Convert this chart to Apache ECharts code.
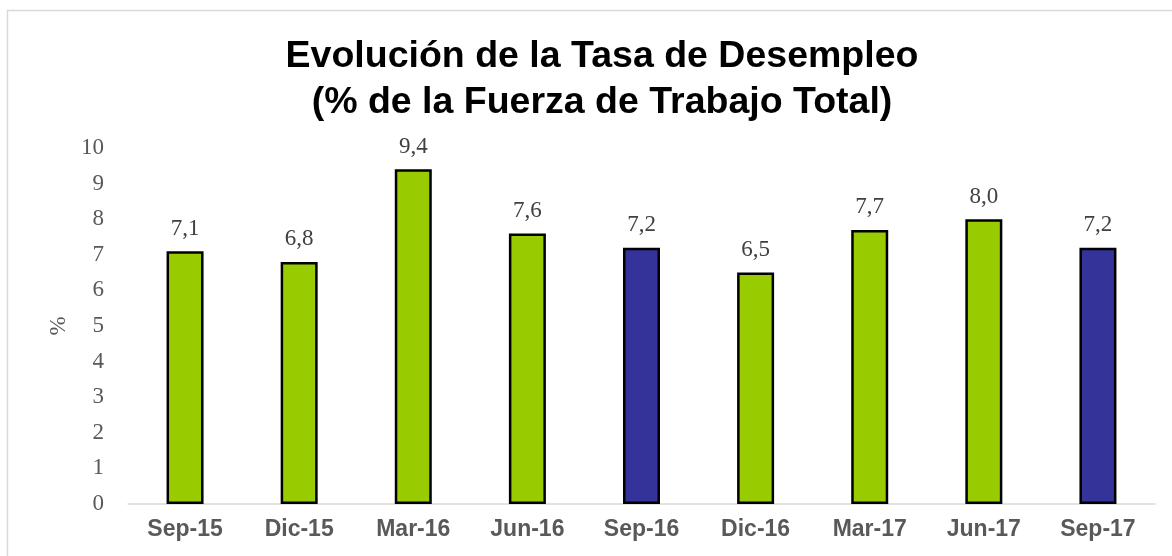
<!DOCTYPE html>
<html>
<head>
<meta charset="utf-8">
<script src="https://cdn.jsdelivr.net/npm/echarts@6/dist/echarts.min.js"></script>
<style>
  html, body { margin: 0; padding: 0; background: #fff; }
  #chart { width: 1172px; height: 556px; }
</style>
</head>
<body>
<div id="chart"></div>
<script>
const categories = ['Sep-15', 'Dic-15', 'Mar-16', 'Jun-16', 'Sep-16', 'Dic-16', 'Mar-17', 'Jun-17', 'Sep-17']
const values = [7.1, 6.8, 9.4, 7.6, 7.2, 6.5, 7.7, 8.0, 7.2]
// trimestres de septiembre van en azul
const highlight = ['Sep-16', 'Sep-17']

const green = '#99cc00'
const blue = '#333399'
const serif = '"Liberation Serif", "DejaVu Serif", serif'
const sans = '"Liberation Sans", Arial, sans-serif'

const chart = echarts.init(document.getElementById('chart'))

chart.setOption({
  animation: false,
  graphic: [{
    type: 'rect',
    shape: { x: 7.5, y: 10.5, width: 1200, height: 600 },
    style: { fill: 'none', stroke: '#d9d9d9', lineWidth: 1.5 },
    silent: true
  }],
  title: {
    text: 'Evolución de la Tasa de Desempleo\n(% de la Fuerza de Trabajo Total)',
    left: 597,
    textAlign: 'center',
    top: 29,
    textStyle: {
      fontFamily: sans,
      fontSize: 37.5,
      fontWeight: 'bold',
      color: '#000',
      lineHeight: 46
    }
  },
  grid: {
    left: 128,
    right: 17,
    top: 148,
    bottom: 52
  },
  xAxis: {
    type: 'category',
    data: categories,
    axisTick: { show: false },
    axisLine: { lineStyle: { color: '#d9d9d9', width: 1.5 } },
    axisLabel: {
      fontFamily: sans,
      fontSize: 23,
      fontWeight: 'bold',
      color: '#595959',
      margin: 14
    }
  },
  yAxis: {
    type: 'value',
    min: 0,
    max: 10,
    interval: 1,
    name: '%',
    nameLocation: 'middle',
    nameRotate: 90,
    nameGap: 58,
    nameTextStyle: { fontFamily: serif, fontSize: 23, color: '#595959' },
    splitLine: { show: false },
    axisLine: { show: false },
    axisTick: { show: false },
    axisLabel: {
      fontFamily: serif,
      fontSize: 23,
      color: '#595959',
      margin: 24
    }
  },
  series: [{
    type: 'bar',
    barWidth: 37,
    data: values.map((v, i) => ({
      value: v,
      itemStyle: { color: highlight.includes(categories[i]) ? blue : green }
    })),
    itemStyle: { borderColor: '#000', borderWidth: 2.5 },
    label: {
      show: true,
      position: 'top',
      distance: 11,
      fontFamily: serif,
      fontSize: 23,
      color: '#404040',
      formatter: p => p.value.toFixed(1).replace('.', ',')
    }
  }]
})
</script>
</body>
</html>
